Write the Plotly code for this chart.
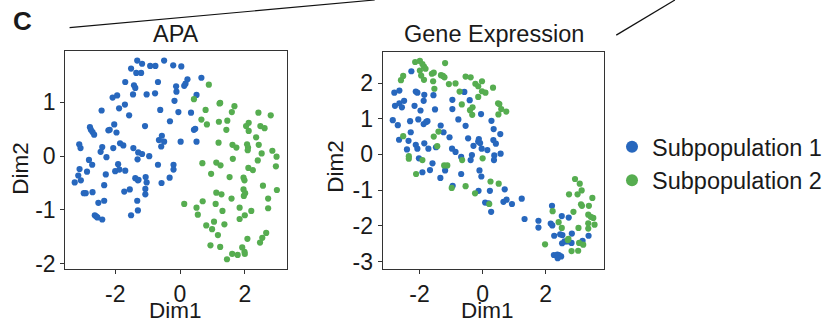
import plotly.graph_objects as go

W, H = 827, 326

# APA panel
apa_blue_x = [-1.32,-1.17,-1.51,-1.35,-1.20,-0.92,-0.76,-0.49,-0.21,0.04,-1.69,-1.42,-1.38,-1.45,-1.03,-0.77,-0.68,-2.08,-1.94,-1.70,
              -1.88,-2.42,-1.57,-0.61,-1.08,-0.31,-0.11,-0.17,-0.12,0.13,0.17,0.23,0.66,0.51,-0.05,0.34,0.43,0.47,0.51,0.02,
              -0.65,-0.56,-0.49,-0.58,-2.78,-2.75,-2.70,-2.65,-2.21,-2.17,-2.03,-1.96,-3.11,-3.07,-2.40,-2.45,-2.06,-1.85,-1.75,-2.27,
              -2.81,-2.71,-3.10,-2.87,-3.14,-3.06,-3.25,-2.97,-2.91,-2.70,-2.34,-2.29,-2.00,-1.91,-1.87,-1.69,-1.44,-1.29,-1.17,-0.95,
              -1.31,-1.38,-1.30,-1.28,-1.06,-1.03,-1.07,-1.07,-1.72,-1.55,-1.32,-1.30,-1.51,-2.52,-2.34,-2.63,-2.59,-2.55,-2.40,-0.68,
              -0.57,-0.32,-0.20,-0.20]
apa_blue_y = [1.78,1.72,1.63,1.55,1.55,1.68,1.68,1.78,1.69,1.67,1.38,1.32,1.27,1.15,1.15,1.17,1.38,1.09,1.13,0.96,
              0.89,0.85,0.76,0.86,0.56,0.65,1.20,1.03,1.30,1.31,1.35,1.43,1.46,1.14,0.82,0.81,0.49,0.51,0.27,0.27,
              0.30,0.38,0.27,0.18,0.54,0.49,0.45,0.40,0.48,0.49,0.59,0.44,0.22,0.15,0.17,0.08,0.15,0.24,0.20,-0.02,
              -0.07,-0.16,-0.24,-0.29,-0.36,-0.45,-0.49,-0.69,-0.69,-0.67,-0.54,-0.34,-0.28,-0.15,-0.25,-0.27,0.15,0.07,0.04,0.00,
              -0.06,-0.41,-0.45,-0.44,-0.39,-0.49,-0.61,-0.71,-0.66,-0.62,-0.83,-1.01,-1.10,-0.87,-0.83,-1.10,-1.12,-1.14,-1.18,-0.16,
              -0.50,-0.40,-0.16,-0.25]
apa_green_x = [0.89,0.43,1.24,1.22,1.68,1.60,0.79,0.66,0.83,1.20,1.46,1.43,2.42,2.80,2.12,2.04,2.12,2.48,2.61,2.35,
               1.19,1.62,1.74,2.07,2.10,2.09,2.43,2.52,2.85,2.98,2.96,2.40,1.63,1.12,1.25,0.69,0.96,1.53,2.11,2.25,
               1.96,1.99,1.96,1.97,2.01,2.56,2.99,2.72,2.72,1.12,1.28,1.59,0.70,0.51,0.55,0.13,1.10,1.31,1.84,2.20,
               2.00,1.84,1.05,0.99,0.81,1.37,1.17,2.08,0.94,1.24,2.66,2.54,2.47,1.92,1.99,2.00,1.61,1.78,1.45]
apa_green_y = [1.33,1.06,0.99,0.98,0.93,0.82,0.86,0.68,0.59,0.64,0.66,0.49,0.81,0.76,0.62,0.56,0.47,0.56,0.52,0.35,
               0.25,0.21,0.16,0.22,0.16,0.11,0.21,0.05,0.10,-0.01,-0.19,-0.08,-0.05,-0.12,-0.17,-0.13,-0.33,-0.39,-0.22,-0.26,
               -0.40,-0.45,-0.62,-0.74,-0.69,-0.55,-0.63,-0.79,-0.97,-0.68,-0.71,-0.79,-0.84,-0.96,-1.09,-0.89,-0.89,-1.02,-0.96,-1.02,
               -1.10,-1.17,-1.22,-1.36,-1.29,-1.27,-1.47,-1.54,-1.66,-1.69,-1.43,-1.52,-1.61,-1.70,-1.78,-1.82,-1.82,-1.84,-1.92]

# Gene expression panel
ge_blue_x = [-2.26,-2.80,-2.64,-2.78,-2.64,-2.56,-2.49,-2.85,-2.69,-2.12,-2.07,-1.85,-2.16,-1.97,-1.87,-2.30,-2.04,-1.87,-1.79,-1.75,
             -1.56,-1.51,-2.28,-2.65,-2.35,-2.40,-2.12,-2.07,-2.02,-1.85,-1.72,-1.48,-1.33,-1.24,-1.05,-1.91,-1.67,-1.59,-1.34,-1.19,
             -0.96,-0.96,-0.58,-0.41,-0.77,-0.54,-0.97,-0.86,-0.68,-0.46,-0.34,-0.38,-0.29,-0.12,-0.14,-0.05,-0.08,-0.03,0.15,-0.68,
             -0.10,-0.04,0.28,0.35,0.56,0.34,0.42,0.57,0.37,0.36,-0.95,-0.13,0.23,0.70,0.08,0.19,0.27,0.66,0.76,0.93,
             1.24,1.33,1.77,1.77,2.20,2.16,2.21,2.27,2.51,2.46,2.53,2.60,2.52,2.83,2.68,2.82,2.73,3.17,3.36,2.26,
             2.37,2.42,2.49,2.38]
ge_blue_y = [2.33,1.73,1.79,1.36,1.43,1.32,1.50,0.96,0.82,1.76,1.73,1.67,1.36,1.23,1.50,0.93,0.98,0.85,0.91,0.93,
             1.66,1.26,0.62,0.41,0.38,0.14,0.27,0.16,-0.11,0.31,0.16,0.20,0.81,0.62,0.48,-0.50,-0.44,-0.25,-0.66,-0.45,
             1.53,1.27,1.75,1.52,0.98,0.80,0.16,0.07,-0.07,0.45,-0.02,-0.16,0.24,0.43,0.36,1.13,0.32,0.16,0.12,-0.55,
             -0.45,-0.62,0.94,0.71,0.57,0.40,0.30,0.02,-0.03,-0.16,-0.88,-1.02,-1.02,-0.98,-1.35,-1.37,-1.61,-1.33,-1.27,-1.39,
             -1.24,-1.81,-1.86,-2.05,-1.44,-1.94,-1.99,-2.28,-1.73,-2.24,-2.26,-2.44,-2.49,-2.22,-2.44,-2.48,-1.77,-2.42,-2.28,-2.82,
             -2.81,-2.82,-2.86,-2.91]
ge_green_x = [-2.14,-1.99,-1.91,-1.86,-1.81,-1.99,-1.95,-1.86,-1.19,-2.52,-2.59,-1.61,-1.55,-1.32,-1.26,-1.21,-1.57,-1.53,-1.07,-0.86,
              -0.54,-0.38,-0.23,-0.14,-0.02,-0.02,0.09,0.33,-0.73,-0.14,-0.66,-0.40,-0.33,-0.32,0.49,0.53,0.59,0.50,0.75,-2.52,
              -2.34,-2.34,-2.11,-1.91,-1.55,-1.44,-1.40,-1.22,-1.12,-0.65,-0.98,-0.54,-0.24,0.00,0.25,0.51,0.21,2.93,3.08,3.14,
              3.01,2.74,3.48,3.12,3.15,2.88,3.37,3.35,3.43,3.51,3.55,3.35,3.35,3.04,2.22,2.41,2.51,2.72,2.70,1.98,
              2.82,3.03,3.06,3.19]
ge_green_y = [2.59,2.62,2.53,2.46,2.40,2.35,2.21,2.09,2.56,2.20,2.08,2.26,2.29,2.22,2.20,2.16,2.05,1.84,1.97,1.99,
              2.18,2.16,1.98,1.91,2.05,1.77,1.73,1.87,1.76,1.61,1.40,1.24,1.11,1.32,1.43,1.41,1.27,1.12,1.20,0.51,
              -0.05,-0.12,-0.55,-0.16,0.50,0.23,0.64,-0.31,-0.31,-0.16,-0.94,-0.89,-1.09,-0.11,-0.76,-0.82,-1.39,-0.69,-0.82,-1.01,
              -1.12,-1.12,-1.22,-1.40,-1.44,-1.61,-1.44,-1.69,-1.75,-1.78,-1.97,-1.93,-2.08,-2.06,-1.59,-1.90,-2.06,-2.37,-2.40,-2.52,
              -2.71,-2.70,-2.48,-2.53]

series_names = ["Subpopulation 1", "Subpopulation 2"]
panel_titles = ["APA", "Gene Expression"]
axis_titles = ["Dim1", "Dim2"]
x_ticks = [-2, 0, 2]
apa_y_ticks = [-2, -1, 0, 1]
ge_y_ticks = [-3, -2, -1, 0, 1, 2]

def lab(vals):
    return [str(v) for v in vals]  # plain hyphen minus, as in the reference

BLUE = "#2767bd"
GREEN = "#56ad50"
TXT = "#1a1a1a"
FONT = "Liberation Sans, Arial, sans-serif"

fig = go.Figure()
mk = dict(size=6.2, line=dict(width=0))
fig.add_trace(go.Scatter(x=apa_blue_x, y=apa_blue_y, mode="markers", marker=dict(color=BLUE, **mk),
                         name=series_names[0], xaxis="x", yaxis="y", legendgroup="a"))
fig.add_trace(go.Scatter(x=apa_green_x, y=apa_green_y, mode="markers", marker=dict(color=GREEN, **mk),
                         name=series_names[1], xaxis="x", yaxis="y", legendgroup="b"))
fig.add_trace(go.Scatter(x=ge_blue_x, y=ge_blue_y, mode="markers", marker=dict(color=BLUE, **mk),
                         name=series_names[0], xaxis="x2", yaxis="y2", legendgroup="a", showlegend=False))
fig.add_trace(go.Scatter(x=ge_green_x, y=ge_green_y, mode="markers", marker=dict(color=GREEN, **mk),
                         name=series_names[1], xaxis="x2", yaxis="y2", legendgroup="b", showlegend=False))

def px_x(p): return p / W
def px_y(p): return 1 - p / H

ax_common = dict(showgrid=False, zeroline=False, showline=True, linecolor="#333333", linewidth=1.2, mirror=True,
                 ticks="outside", ticklen=4, tickcolor="#333333", tickfont=dict(size=23, color=TXT, family=FONT))

fig.update_layout(
    width=W, height=H, margin=dict(l=0, r=0, t=0, b=0),
    paper_bgcolor="white", plot_bgcolor="white",
    font=dict(family=FONT, color=TXT),
    xaxis=dict(domain=[px_x(65.7), px_x(289)], range=[-3.54, 3.31], tickvals=x_ticks, ticktext=lab(x_ticks),
               anchor="y", **ax_common),
    yaxis=dict(domain=[px_y(275.7), px_y(52.7)], range=[-2.10, 1.95], tickvals=apa_y_ticks, ticktext=lab(apa_y_ticks),
               anchor="x", **ax_common),
    xaxis2=dict(domain=[px_x(385), px_x(607.7)], range=[-3.17, 3.85], tickvals=x_ticks, ticktext=lab(x_ticks),
                anchor="y2", **ax_common),
    yaxis2=dict(domain=[px_y(275.7), px_y(53.3)], range=[-3.21, 2.87], tickvals=ge_y_ticks, ticktext=lab(ge_y_ticks),
                anchor="x2", **ax_common),
    legend=dict(x=px_x(616), y=px_y(128), xanchor="left", yanchor="top", font=dict(size=23.5, color=TXT, family=FONT),
                itemsizing="constant", itemwidth=30, tracegroupgap=0, bgcolor="rgba(0,0,0,0)"),
    showlegend=True,
)

def note(text, x, y, size, angle=0):
    fig.add_annotation(text=text, x=px_x(x), y=px_y(y), xref="paper", yref="paper", showarrow=False,
                       textangle=angle, font=dict(size=size, color=TXT, family=FONT),
                       xanchor="center", yanchor="middle")

note(panel_titles[0], 177, 35, 23.5)
note(panel_titles[1], 497, 35, 23.5)
note("<b>C</b>", 23, 22, 26)
note(axis_titles[0], 177, 318, 22.5)
note(axis_titles[0], 490, 318, 22.5)
note(axis_titles[1], 21, 172, 22.5, -90)
note(axis_titles[1], 338, 170, 22.5, -90)

fig.add_shape(type="line", xref="paper", yref="paper", x0=px_x(70), y0=px_y(28.3), x1=px_x(377), y1=px_y(0),
              line=dict(color="#111111", width=1.2))
fig.add_shape(type="line", xref="paper", yref="paper", x0=px_x(620), y0=px_y(36), x1=px_x(679), y1=px_y(0),
              line=dict(color="#111111", width=1.2))

fig.write_html("out.html")
